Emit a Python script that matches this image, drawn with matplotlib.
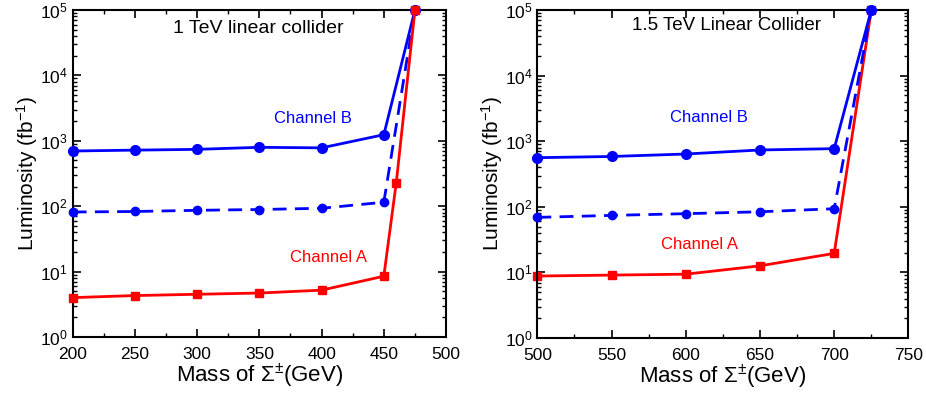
import matplotlib
matplotlib.use('Agg')
import matplotlib.pyplot as plt
from matplotlib.ticker import MultipleLocator, LogLocator, NullFormatter

plt.rcParams['font.family'] = ['Liberation Sans', 'DejaVu Sans']
plt.rcParams['mathtext.fontset'] = 'custom'
plt.rcParams['mathtext.rm'] = 'Liberation Sans'
plt.rcParams['mathtext.it'] = 'Liberation Sans:italic'

# 1 TeV linear collider
mass_1tev = [200, 250, 300, 350, 400, 450, 475]
chB_1tev = [698, 720, 740, 795, 780, 1240, 1e5]
chB_dash_1tev = [81.5, 83, 86.5, 89, 93, 115, 1e5]
mass_A_1tev = [200, 250, 300, 350, 400, 450, 460, 475]
chA_1tev = [4.0, 4.3, 4.5, 4.7, 5.2, 8.5, 229, 1e5]

# 1.5 TeV linear collider
mass_15tev = [500, 550, 600, 650, 700, 725]
chB_15tev = [561, 585, 638, 735, 770, 1e5]
chB_dash_15tev = [69, 74, 78.6, 84, 93.5, 1e5]
chA_15tev = [8.8, 9.1, 9.4, 12.6, 19.5, 1e5]

blue = '#0000ff'
red = '#ff0000'

fig = plt.figure(figsize=(9.26, 3.94), dpi=100)
ax1 = fig.add_axes([0.0785, 0.1447, 0.4032, 0.8299])
ax2 = fig.add_axes([0.5803, 0.1421, 0.4007, 0.8325])


def style_axis(ax, xlim, xmajor):
    ax.set_yscale('log')
    ax.set_xlim(*xlim)
    ax.set_ylim(1, 1e5)
    ax.xaxis.set_major_locator(MultipleLocator(xmajor))
    ax.xaxis.set_minor_locator(MultipleLocator(xmajor / 2))
    ax.yaxis.set_major_locator(LogLocator(base=10, numticks=10))
    ax.yaxis.set_minor_locator(LogLocator(base=10, subs=range(2, 10), numticks=20))
    ax.yaxis.set_minor_formatter(NullFormatter())
    ax.tick_params(which='both', direction='in', top=True, right=True, labelsize=12.5)
    ax.tick_params(axis='x', which='major', pad=7)
    ax.tick_params(which='major', length=6, width=1.2)
    ax.tick_params(which='minor', length=3, width=1)
    for s in ax.spines.values():
        s.set_linewidth(1.5)
    ax.set_xlabel(r'Mass of $\Sigma^{\pm}$(GeV)', fontsize=16, labelpad=0)
    ax.set_ylabel(r'Luminosity (fb$^{-1}$)', fontsize=15, labelpad=0)


# left panel
ax1.plot(mass_1tev, chB_1tev, '-o', color=blue, lw=2, ms=7, clip_on=False, zorder=3)
ax1.plot(mass_1tev, chB_dash_1tev, '--o', color=blue, lw=2, ms=6, dashes=(5, 3), clip_on=False, zorder=3)
ax1.plot(mass_A_1tev, chA_1tev, '-s', color=red, lw=2, ms=6, clip_on=False, zorder=4)
style_axis(ax1, (200, 500), 50)
ax1.text(0.496, 0.942, '1 TeV linear collider', transform=ax1.transAxes,
         ha='center', va='center', fontsize=14)
ax1.text(0.644, 0.667, 'Channel B', transform=ax1.transAxes,
         ha='center', va='center', fontsize=12, color=blue)
ax1.text(0.684, 0.242, 'Channel A', transform=ax1.transAxes,
         ha='center', va='center', fontsize=12, color=red)

# right panel
ax2.plot(mass_15tev, chB_15tev, '-o', color=blue, lw=2, ms=7, clip_on=False, zorder=3)
ax2.plot(mass_15tev, chB_dash_15tev, '--o', color=blue, lw=2, ms=6, dashes=(5, 3), clip_on=False, zorder=3)
ax2.plot(mass_15tev, chA_15tev, '-s', color=red, lw=2, ms=6, clip_on=False, zorder=2)
style_axis(ax2, (500, 750), 50)
ax2.text(0.509, 0.954, '1.5 TeV Linear Collider', transform=ax2.transAxes,
         ha='center', va='center', fontsize=13.5)
ax2.text(0.462, 0.672, 'Channel B', transform=ax2.transAxes,
         ha='center', va='center', fontsize=12, color=blue)
ax2.text(0.438, 0.286, 'Channel A', transform=ax2.transAxes,
         ha='center', va='center', fontsize=12, color=red)

fig.savefig('out.png', dpi=100)
